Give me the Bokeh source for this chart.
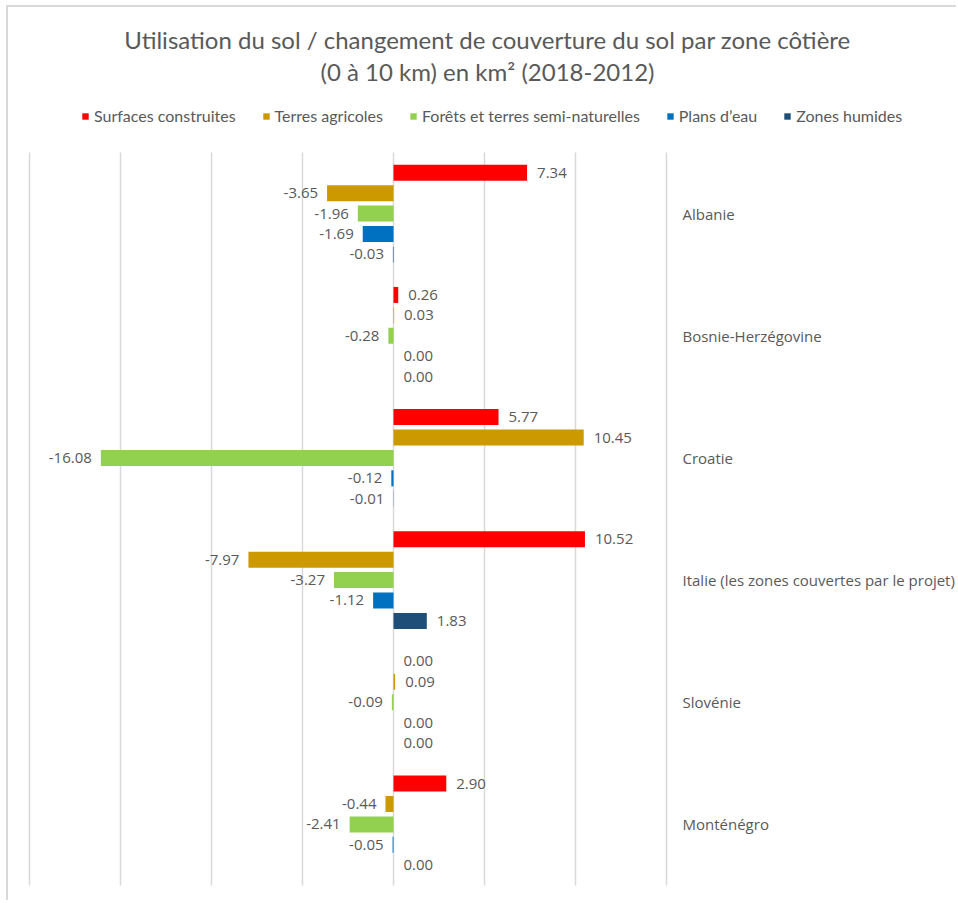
from bokeh.plotting import figure
from bokeh.models import Range1d, ColumnDataSource, Label, Legend, LegendItem
from bokeh.core.properties import value
from bokeh.embed import file_html
from bokeh.resources import INLINE

countries = ["Albanie", "Bosnie-Herzégovine", "Croatie",
             "Italie (les zones couvertes par le projet)", "Slovénie", "Monténégro"]
series_names = ["Surfaces construites", "Terres agricoles",
                "Forêts et terres semi-naturelles", "Plans d’eau", "Zones humides"]
surfaces_construites = [7.34, 0.26, 5.77, 10.52, 0.00, 2.90]
terres_agricoles = [-3.65, 0.03, 10.45, -7.97, 0.09, -0.44]
forets = [-1.96, -0.28, -16.08, -3.27, -0.09, -2.41]
plans_eau = [-1.69, 0.00, -0.12, -1.12, 0.00, -0.05]
zones_humides = [-0.03, 0.00, -0.01, 1.83, 0.00, 0.00]
grid_ticks = [-20, -15, -10, -5, 0, 5, 10, 15]
title_lines = ["Utilisation du sol / changement de couverture du sol par zone côtière",
               "(0 à 10 km) en km² (2018-2012)"]

series_values = [surfaces_construites, terres_agricoles, forets, plans_eau, zones_humides]
colors = ["#FF0000", "#CC9900", "#92D050", "#0070C0", "#1F4E79"]
offsets = [0.334, 0.167, 0.0, -0.167, -0.334]

TXT = "#595959"
LABEL_FONT = "Open Sans"

# layout constants (pixels inside the figure)
W, H = 950, 895
PLOT_L, PLOT_R = 21, 658      # where first / last grid tick fall
PLOT_T, PLOT_B = 145, 878     # top / bottom of the category band

n = len(countries)
span_x = grid_ticks[-1] - grid_ticks[0]
ux = span_x / (PLOT_R - PLOT_L)
x_start = grid_ticks[0] - PLOT_L * ux
x_end = grid_ticks[-1] + (W - PLOT_R) * ux
uy = n / (PLOT_B - PLOT_T)
y_start = -0.5 - (H - PLOT_B) * uy
y_end = n - 0.5 + PLOT_T * uy

centers = [n - 1 - i for i in range(n)]

p = figure(width=W, height=H, x_range=Range1d(x_start, x_end), y_range=Range1d(y_start, y_end),
           output_backend="svg", toolbar_location=None,
           x_axis_location=None, y_axis_location=None,
           min_border=0, min_border_left=0, min_border_right=0,
           min_border_top=0, min_border_bottom=0)
p.outline_line_color = None
p.grid.visible = False
p.styles = {"margin-left": "6px", "margin-top": "5px",
            "border-left": "2px solid #D9D9D9", "border-top": "2px solid #D9D9D9"}

# vertical gridlines limited to the category band
p.segment(x0=grid_ticks, x1=grid_ticks, y0=-0.5, y1=n - 0.5,
          line_color="#D9D9D9", line_width=1.5)

# category labels on the right
p.text(x=[grid_ticks[-1]] * n, y=centers, text=countries, x_offset=16,
       text_align="left", text_baseline="middle", text_font=value(LABEL_FONT),
       text_font_size="15px", text_color=TXT)

items = []
for name, vals, col, off in zip(series_names, series_values, colors, offsets):
    src = ColumnDataSource(dict(
        y=[c + off for c in centers],
        val=vals,
        txt=[f"{v:.2f}" for v in vals],
        align=["right" if v < 0 else "left" for v in vals],
        xoff=[-9 if v < 0 else 10 for v in vals],
    ))
    r = p.hbar(y="y", left=0, right="val", height=0.131,
               fill_color=col, line_color=None, source=src)
    p.text(x="val", y="y", text="txt", text_align="align", x_offset="xoff",
           text_baseline="middle", text_font=value(LABEL_FONT), text_font_size="15px",
           text_color=TXT, source=src)
    items.append(LegendItem(label=name, renderers=[r]))

legend = Legend(items=items, location=(73, 777), orientation="horizontal",
                glyph_width=8, glyph_height=8, label_standoff=5, spacing=26,
                padding=0, margin=0, border_line_color=None, background_fill_alpha=0,
                label_text_font="Lato", label_text_font_size="16px", label_text_color=TXT)
p.add_layout(legend)

for line, yy in zip(title_lines, [H - 32, H - 64]):
    p.add_layout(Label(x=W / 2 + 4, y=yy, x_units="screen", y_units="screen",
                       text=line, text_align="center", text_baseline="middle",
                       text_font="Lato", text_font_size="24px", text_color=TXT))

open("out.html", "w").write(file_html(p, INLINE))
